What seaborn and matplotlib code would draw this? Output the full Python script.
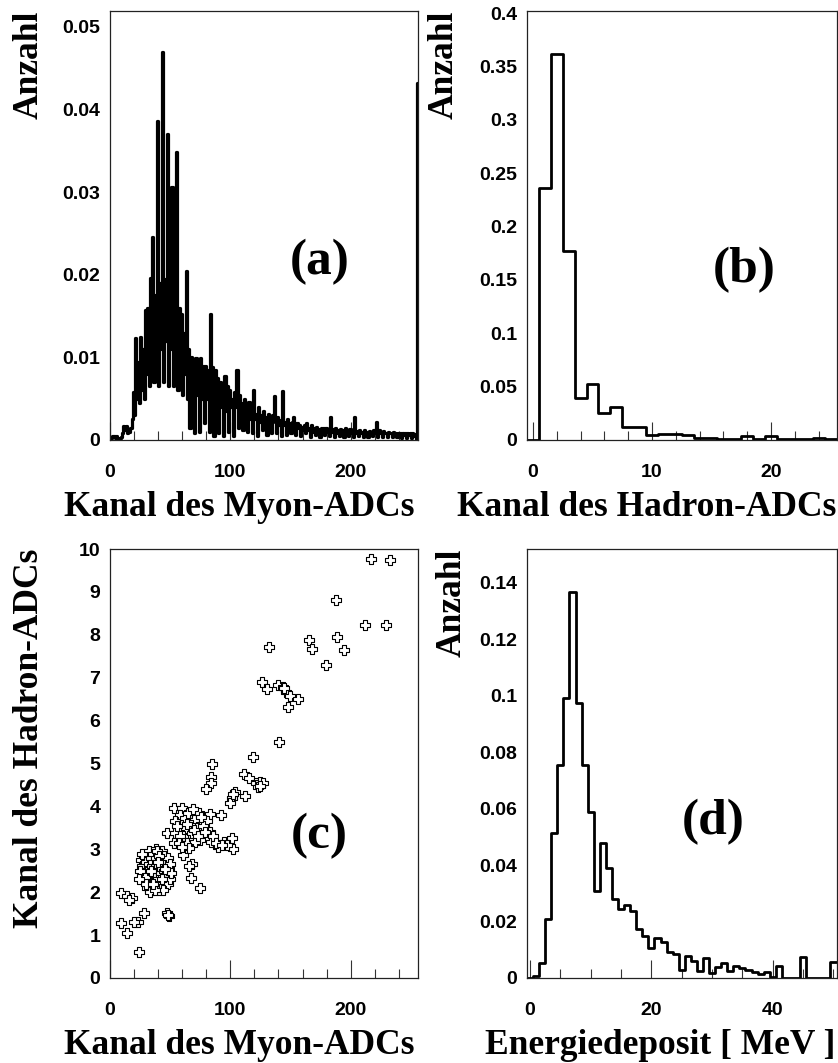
import numpy as np
import pandas as pd
import matplotlib
matplotlib.use("Agg")
import matplotlib.pyplot as plt
from matplotlib.path import Path
from matplotlib.ticker import FixedLocator, FuncFormatter
import seaborn as sns

# ---------------------------------------------------------------- data
# (a) Myon-ADC spectrum, one value per channel 0..255 (last channel = overflow)
myon_counts = [
    0.0000, 0.0003, 0.0005, 0.0005, 0.0003, 0.0005, 0.0002, 0.0000,
    0.0002, 0.0004, 0.0008, 0.0017, 0.0012, 0.0017, 0.0009, 0.0012,
    0.0010, 0.0015, 0.0026, 0.0058, 0.0030, 0.0124, 0.0050, 0.0094,
    0.0045, 0.0125, 0.0060, 0.0110, 0.0050, 0.0157, 0.0080, 0.0160,
    0.0065, 0.0196, 0.0090, 0.0245, 0.0070, 0.0175, 0.0100, 0.0386,
    0.0065, 0.0190, 0.0110, 0.0469, 0.0070, 0.0195, 0.0120, 0.0370,
    0.0065, 0.0185, 0.0110, 0.0306, 0.0065, 0.0175, 0.0100, 0.0349,
    0.0060, 0.0160, 0.0090, 0.0153, 0.0055, 0.0130, 0.0080, 0.0204,
    0.0050, 0.0110, 0.0015, 0.0100, 0.0060, 0.0093, 0.0008, 0.0099,
    0.0055, 0.0095, 0.0010, 0.0099, 0.0050, 0.0090, 0.0020, 0.0090,
    0.0050, 0.0085, 0.0010, 0.0153, 0.0045, 0.0088, 0.0005, 0.0085,
    0.0045, 0.0075, 0.0008, 0.0070, 0.0040, 0.0068, 0.0005, 0.0077,
    0.0035, 0.0065, 0.0010, 0.0060, 0.0040, 0.0050, 0.0005, 0.0058,
    0.0040, 0.0085, 0.0015, 0.0055, 0.0035, 0.0045, 0.0012, 0.0050,
    0.0030, 0.0040, 0.0010, 0.0046, 0.0025, 0.0035, 0.0008, 0.0060,
    0.0025, 0.0032, 0.0005, 0.0040, 0.0022, 0.0030, 0.0012, 0.0035,
    0.0020, 0.0028, 0.0006, 0.0032, 0.0020, 0.0025, 0.0008, 0.0030,
    0.0053, 0.0022, 0.0008, 0.0028, 0.0018, 0.0024, 0.0005, 0.0059,
    0.0018, 0.0022, 0.0006, 0.0025, 0.0015, 0.0020, 0.0008, 0.0022,
    0.0028, 0.0016, 0.0006, 0.0020, 0.0014, 0.0018, 0.0005, 0.0016,
    0.0012, 0.0018, 0.0008, 0.0020, 0.0012, 0.0015, 0.0004, 0.0018,
    0.0010, 0.0014, 0.0006, 0.0016, 0.0010, 0.0013, 0.0004, 0.0015,
    0.0011, 0.0014, 0.0006, 0.0015, 0.0010, 0.0012, 0.0005, 0.0028,
    0.0010, 0.0013, 0.0004, 0.0014, 0.0009, 0.0012, 0.0005, 0.0013,
    0.0010, 0.0012, 0.0004, 0.0014, 0.0008, 0.0011, 0.0005, 0.0013,
    0.0009, 0.0012, 0.0004, 0.0028, 0.0009, 0.0011, 0.0005, 0.0012,
    0.0008, 0.0010, 0.0004, 0.0012, 0.0008, 0.0010, 0.0004, 0.0011,
    0.0008, 0.0010, 0.0005, 0.0012, 0.0009, 0.0022, 0.0004, 0.0012,
    0.0008, 0.0010, 0.0004, 0.0011, 0.0008, 0.0009, 0.0004, 0.0010,
    0.0008, 0.0009, 0.0004, 0.0010, 0.0007, 0.0009, 0.0004, 0.0009,
    0.0007, 0.0008, 0.0003, 0.0009, 0.0006, 0.0008, 0.0003, 0.0008,
    0.0006, 0.0008, 0.0003, 0.0008, 0.0005, 0.0007, 0.0000, 0.0432,
]

# (b) Hadron-ADC spectrum, channels 0..25
hadron_counts = [
    0.0, 0.236, 0.3617, 0.1768, 0.0389, 0.0523, 0.0255, 0.0311, 0.0118,
    0.0125, 0.0047, 0.0060, 0.0060, 0.0047, 0.0022, 0.0022, 0.0006,
    0.0006, 0.0037, 0.0006, 0.0037, 0.0006, 0.0012, 0.0006, 0.0019, 0.0006,
]

# (c) correlation of both ADC channels
myon_ch = [
    26, 27, 28, 28, 29, 30, 30, 31, 31, 32, 32, 33, 33, 34, 34, 35, 35, 35,
    36, 36, 36, 37, 37, 38, 38, 38, 38, 39, 39, 40, 40, 40, 41, 41, 42, 42,
    42, 43, 43, 44, 44, 45, 45, 45, 46, 46, 47, 47, 48, 48, 49, 49, 50, 50,
    51, 33, 29, 27, 39, 44, 37, 41, 34, 43, 46, 30, 25, 24, 40, 36,
    53, 60, 58, 54, 74, 83, 92, 70, 67, 63, 72, 81, 83, 47, 54, 61, 68, 75,
    84, 90, 95, 101, 102, 97, 53, 58, 64, 71, 66, 61, 68, 66, 67, 75,
    56, 62, 65, 70, 73, 77, 79, 86, 88, 57, 60, 64, 69, 76, 93,
    9, 14, 18.5, 16, 28, 23, 20, 9.4, 14, 47.5, 49, 48, 24,
    84.8, 84.3, 84.3, 80.1, 111, 115.2, 121.5, 124.8, 122.6, 127, 125,
    103.6, 101.4, 100, 111.8, 102.5, 118.5, 140.6,
    126.3, 130.4, 139.5, 143.6, 146.4, 149.7, 156, 148.3, 145, 132.3,
    165.5, 168.2, 188.5, 194.8, 179.3, 187.6, 211.8, 229, 216.6, 232.6,
]
hadron_ch = [
    2.75, 2.6, 2.45, 2.25, 2.85, 2.7, 2.5, 2.3, 2.1, 2.95, 2.65, 2.4, 2.55,
    2.8, 2.2, 2.6, 2.35, 2.05, 2.9, 2.7, 2.45, 2.55, 2.25, 3.0, 2.8, 2.6,
    2.4, 2.15, 2.7, 2.5, 2.3, 2.9, 2.6, 2.05, 2.75, 2.45, 2.2, 2.95, 2.55,
    2.35, 2.65, 2.85, 2.15, 2.5, 2.7, 2.3, 2.45, 2.6, 2.2, 2.8, 2.4, 2.55,
    2.3, 2.65, 2.45, 2.0, 2.35, 2.9, 2.95, 2.05, 2.05, 2.85, 2.5, 2.3,
    2.55, 2.2, 2.5, 2.3, 2.7, 2.2,
    3.96, 3.96, 3.80, 3.65, 3.84, 3.82, 3.80, 3.69, 3.57, 3.49, 3.49, 3.65,
    3.41, 3.37, 3.37, 3.30, 3.37, 3.22, 3.18, 3.06, 3.18, 3.26, 3.00, 3.10,
    3.14, 3.30, 3.14, 3.18, 3.02, 2.86, 2.66, 2.60, 2.32, 2.09,
    3.55, 3.72, 3.85, 3.45, 3.30, 3.55, 3.40, 3.30, 3.15, 3.15, 3.05, 3.60,
    3.95, 3.75, 3.10,
    1.97, 1.90, 1.86, 1.82, 1.51, 1.31, 1.31, 1.29, 1.06, 1.51, 1.45, 1.48,
    0.61,
    4.98, 4.69, 4.55, 4.40, 4.76, 4.66, 4.54, 4.58, 4.45, 4.55, 4.48,
    4.34, 4.19, 4.09, 4.25, 4.30, 5.14, 5.49,
    6.91, 6.73, 6.84, 6.79, 6.67, 6.57, 6.50, 6.32, 6.75, 7.72,
    7.88, 7.68, 7.96, 7.65, 7.30, 8.81, 8.23, 8.23, 9.76, 9.75,
]

# (d) deposited energy, 1 MeV bins centred on 0..50
energy_counts = [
    0.0, 0.0008, 0.0053, 0.0208, 0.0515, 0.0753, 0.0992, 0.1369, 0.0974,
    0.0753, 0.0588, 0.0309, 0.0479, 0.0391, 0.0279, 0.0246, 0.0258, 0.0238,
    0.0173, 0.0150, 0.0108, 0.0140, 0.0126, 0.0093, 0.0085, 0.0029, 0.0079,
    0.0061, 0.0026, 0.0071, 0.0018, 0.0038, 0.0052, 0.0026, 0.0044, 0.0035,
    0.0029, 0.0022, 0.0014, 0.0022, 0.0005, 0.0044, 0.0, 0.0, 0.0, 0.0075,
    0.0, 0.0, 0.0, 0.0, 0.0057,
]

panel_tags = ["(a)", "(b)", "(c)", "(d)"]
x_titles = ["Kanal des Myon-ADCs", "Kanal des Hadron-ADCs",
            "Kanal des Myon-ADCs", "Energiedeposit [ MeV ]"]
y_titles = ["Anzahl", "Anzahl", "Kanal des Hadron-ADCs", "Anzahl"]

myon_df = pd.DataFrame({"kanal": np.arange(len(myon_counts)) + 0.5,
                        "anzahl": myon_counts})
hadron_df = pd.DataFrame({"kanal": np.arange(len(hadron_counts)),
                          "anzahl": hadron_counts})
scatter_df = pd.DataFrame({"myon": myon_ch, "hadron": hadron_ch})
energy_df = pd.DataFrame({"energie": np.arange(len(energy_counts)),
                          "anzahl": energy_counts})

# ---------------------------------------------------------------- style
sns.set_theme(style="white", rc={
    "text.color": "black", "axes.labelcolor": "black",
    "xtick.color": "black", "ytick.color": "black",
    "xtick.bottom": True,
})
plt.rcParams["font.family"] = ["Liberation Sans", "DejaVu Sans"]
SERIF = ["Liberation Serif", "DejaVu Serif"]

W, H = 838, 1063
fig = plt.figure(figsize=(W / 100, H / 100), dpi=100)


def rect(l, t, r, b):
    return [l / W, 1 - b / H, (r - l) / W, (b - t) / H]


ax_a = fig.add_axes(rect(110, 11, 418, 440))
ax_b = fig.add_axes(rect(527, 11, 836.5, 440))
ax_c = fig.add_axes(rect(110, 549, 418, 978))
ax_d = fig.add_axes(rect(527, 549, 836.5, 978))
axes = [ax_a, ax_b, ax_c, ax_d]

LW = 2.0

# (a)
sns.histplot(data=myon_df, x="kanal", weights="anzahl",
             bins=list(range(0, 257)), element="step", fill=False,
             color="black", linewidth=2.3, ax=ax_a)
ax_a.set_xlim(0, 256)
ax_a.set_ylim(0, 0.0519)

# (b)
sns.histplot(data=hadron_df, x="kanal", weights="anzahl",
             bins=[e - 0.5 for e in range(0, 27)], element="step", fill=False,
             color="black", linewidth=LW, ax=ax_b)
ax_b.set_xlim(-0.5, 25.5)
ax_b.set_ylim(0, 0.402)

# (c)
v = 1 / 3
cross = Path([(-v, 1), (v, 1), (v, v), (1, v), (1, -v), (v, -v), (v, -1),
              (-v, -1), (-v, -v), (-1, -v), (-1, v), (-v, v), (-v, 1)],
             closed=True)
sns.scatterplot(data=scatter_df, x="myon", y="hadron", marker=cross, s=60,
                facecolor="white", edgecolor="black", linewidth=0.8,
                ax=ax_c)
ax_c.set_xlim(0, 256)
ax_c.set_ylim(0, 10)

# (d)
sns.histplot(data=energy_df, x="energie", weights="anzahl",
             bins=[e - 0.5 for e in range(0, 52)], element="step", fill=False,
             color="black", linewidth=LW, ax=ax_d)
ax_d.set_xlim(-0.5, 50.5)
ax_d.set_ylim(0, 0.152)

# ---------------------------------------------------------------- axes
ticks = {
    0: ([0, 100, 200], np.arange(20, 256, 20)),
    1: ([0, 10, 20], np.arange(0, 26, 2)),
    2: ([0, 100, 200], np.arange(20, 256, 20)),
    3: ([0, 20, 40], np.arange(0, 51, 5)),
}
yticks = {
    0: [0, 0.01, 0.02, 0.03, 0.04, 0.05],
    1: [0, 0.05, 0.1, 0.15, 0.2, 0.25, 0.3, 0.35, 0.4],
    2: list(range(0, 11)),
    3: [0, 0.02, 0.04, 0.06, 0.08, 0.1, 0.12, 0.14],
}
fmt = FuncFormatter(lambda val, pos: "%g" % val)

# label anchor positions (axes coordinates)
xlab_pos = [(0.990, -0.118), (1.0, -0.118), (0.990, -0.118), (0.995, -0.118)]
ylab_pos = [(-0.208, 1.0), (-0.214, 1.0), (-0.208, 1.0), (-0.190, 1.0)]
tag_pos = [(0.68, 0.415), (0.703, 0.396), (0.68, 0.330), (0.60, 0.364)]

for i, ax in enumerate(axes):
    major, minor = ticks[i]
    ax.xaxis.set_major_locator(FixedLocator(major))
    ax.xaxis.set_minor_locator(FixedLocator([m for m in minor if m not in major]))
    ax.yaxis.set_major_locator(FixedLocator(yticks[i]))
    ax.xaxis.set_major_formatter(fmt)
    ax.yaxis.set_major_formatter(fmt)
    ax.tick_params(axis="x", which="major", direction="in", length=13,
                   width=0.8, color="#333333", pad=17, labelsize=14,
                   labelcolor="black", bottom=True)
    ax.tick_params(axis="x", which="minor", direction="in", length=6.5,
                   width=0.8, color="#333333", bottom=True)
    ax.tick_params(axis="y", which="both", length=0, pad=7, labelsize=14,
                   labelcolor="black")
    for lab in ax.get_xticklabels() + ax.get_yticklabels():
        lab.set_fontweight("bold")
    for sp in ax.spines.values():
        sp.set_visible(True)
        sp.set_color("#222222")
        sp.set_linewidth(0.9)
    ax.grid(False)

    ax.set_xlabel(x_titles[i], loc="right", fontsize=25.5, fontweight="bold",
                  family=SERIF, color="black")
    ax.set_ylabel(y_titles[i], loc="top", fontsize=25.5, fontweight="bold",
                  family=SERIF, color="black")
    ax.xaxis.set_label_coords(*xlab_pos[i])
    ax.yaxis.set_label_coords(*ylab_pos[i])

    ax.text(tag_pos[i][0], tag_pos[i][1], panel_tags[i], transform=ax.transAxes,
            ha="center", va="center", fontsize=37, fontweight="bold",
            family=SERIF, color="black")

fig.savefig("out.png", dpi=100, facecolor="white")
